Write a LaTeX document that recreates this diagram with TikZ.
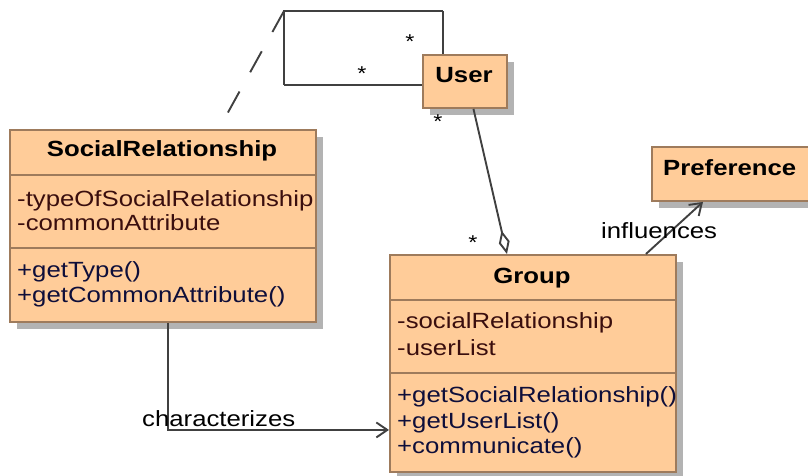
\documentclass[tikz,border=0pt]{standalone}
\usepackage{fontspec}
\setmainfont[FakeStretch=1.17]{Liberation Sans}
\usetikzlibrary{arrows.meta,calc,shadows}
\definecolor{classfill}{HTML}{FFCC99}
\definecolor{classedge}{HTML}{9E7B5C}
\definecolor{shade}{HTML}{B3B3B3}
\definecolor{wire}{HTML}{404040}
\definecolor{attrtext}{HTML}{3A0E0E}
\definecolor{optext}{HTML}{0E0E3A}
\newcommand{\umlfont}{\fontsize{22}{26}\selectfont}
\begin{document}
\begin{tikzpicture}[x=1pt,y=-1pt,
  classbox/.style={draw=classedge, fill=classfill, line width=1.9pt, inner sep=0pt,
    anchor=north west,
    drop shadow={shadow xshift=7pt, shadow yshift=-7pt, fill=shade, opacity=1}},
  sep/.style={draw=classedge, line width=1.9pt},
  title/.style={font=\umlfont\bfseries, anchor=base, inner sep=0pt},
  attr/.style={font=\umlfont, text=attrtext, anchor=base west, inner sep=0pt},
  oper/.style={font=\umlfont, text=optext, anchor=base west, inner sep=0pt},
  tag/.style={font=\umlfont, anchor=base west, inner sep=0pt},
  mult/.style={font=\fontsize{20}{24}\selectfont, anchor=base, inner sep=0pt},
  wireline/.style={draw=wire, line width=1.9pt},
  barb/.style={-{Straight Barb[length=11pt,width=15pt]}},
  hollowdiamond/.style={-{Diamond[open,length=24pt,width=11pt]}}
]
\useasboundingbox (0,0) rectangle (808,476);
\clip (0,0) rectangle (808,476);

% ---- classes ----
\node[classbox, minimum width=306pt, minimum height=192pt] (sr) at (9,129) {};
\draw[sep] ($(sr.north west)+(0,46)$) -- ($(sr.north east)+(0,46)$);
\draw[sep] ($(sr.north west)+(0,119)$) -- ($(sr.north east)+(0,119)$);
\node[title] (srname) at (162,157) {SocialRelationship};
\node[attr] (sra1) at (17,206) {-typeOfSocialRelationship};
\node[attr] (sra2) at (17,230) {-commonAttribute};
\node[oper] (sro1) at (17,277) {+getType()};
\node[oper] (sro2) at (17,302) {+getCommonAttribute()};

\node[classbox, minimum width=286pt, minimum height=217pt] (group) at (389,254) {};
\draw[sep] ($(group.north west)+(0,46)$) -- ($(group.north east)+(0,46)$);
\draw[sep] ($(group.north west)+(0,119)$) -- ($(group.north east)+(0,119)$);
\node[title] (groupname) at (532,283) {Group};
\node[attr] (ga1) at (397,328) {-socialRelationship};
\node[attr] (ga2) at (397,355) {-userList};
\node[oper] (go1) at (397,402) {+getSocialRelationship()};
\node[oper] (go2) at (397,428) {+getUserList()};
\node[oper] (go3) at (397,453) {+communicate()};

\node[classbox, minimum width=161pt, minimum height=54pt] (pref) at (651,146) {};
\node[title, anchor=base west] (prefname) at (663,175) {Preference};

% ---- self association on User ----
\coordinate (ltop) at (443,11);
\coordinate (lcorner) at (284,11);
\coordinate (lbot) at (284,85);
\coordinate (dashend) at (226,116);
\draw[wireline] (ltop) -- (lcorner) -- (lbot);
\draw[wireline, dash pattern=on 24pt off 22pt] (lcorner) -- (dashend);

\node[classbox, minimum width=84pt, minimum height=53pt] (user) at (422,54) {};
\node[title] (username) at (464,83) {User};
\draw[wireline] (user.north -| ltop) -- (ltop);
\draw[wireline] (lbot) -- (lbot -| user.west);

\node[mult] (m1) at (410,48.6) {*};
\node[mult] (m2) at (362,80.6) {*};

% ---- aggregation User -- Group ----
\draw[wireline, hollowdiamond] ($(user.south)+(8.5,0)$) -- ($(group.north)+(-26,0)$);
\node[mult] (m3) at (438,128.6) {*};
\node[mult] (m4) at (473,249.6) {*};

% ---- Group influences Preference ----
\draw[wireline, barb] ($(group.north)+(113,0)$) -- ($(pref.south west)+(52,0)$);
\node[tag] (inf) at (601,238) {influences};

% ---- SocialRelationship characterizes Group ----
\draw[wireline, barb] ($(sr.south)+(5,0)$) |- ($(group.west)+(0,66.5)$);
\node[tag] (chr) at (142,426) {characterizes};
\end{tikzpicture}
\end{document}
